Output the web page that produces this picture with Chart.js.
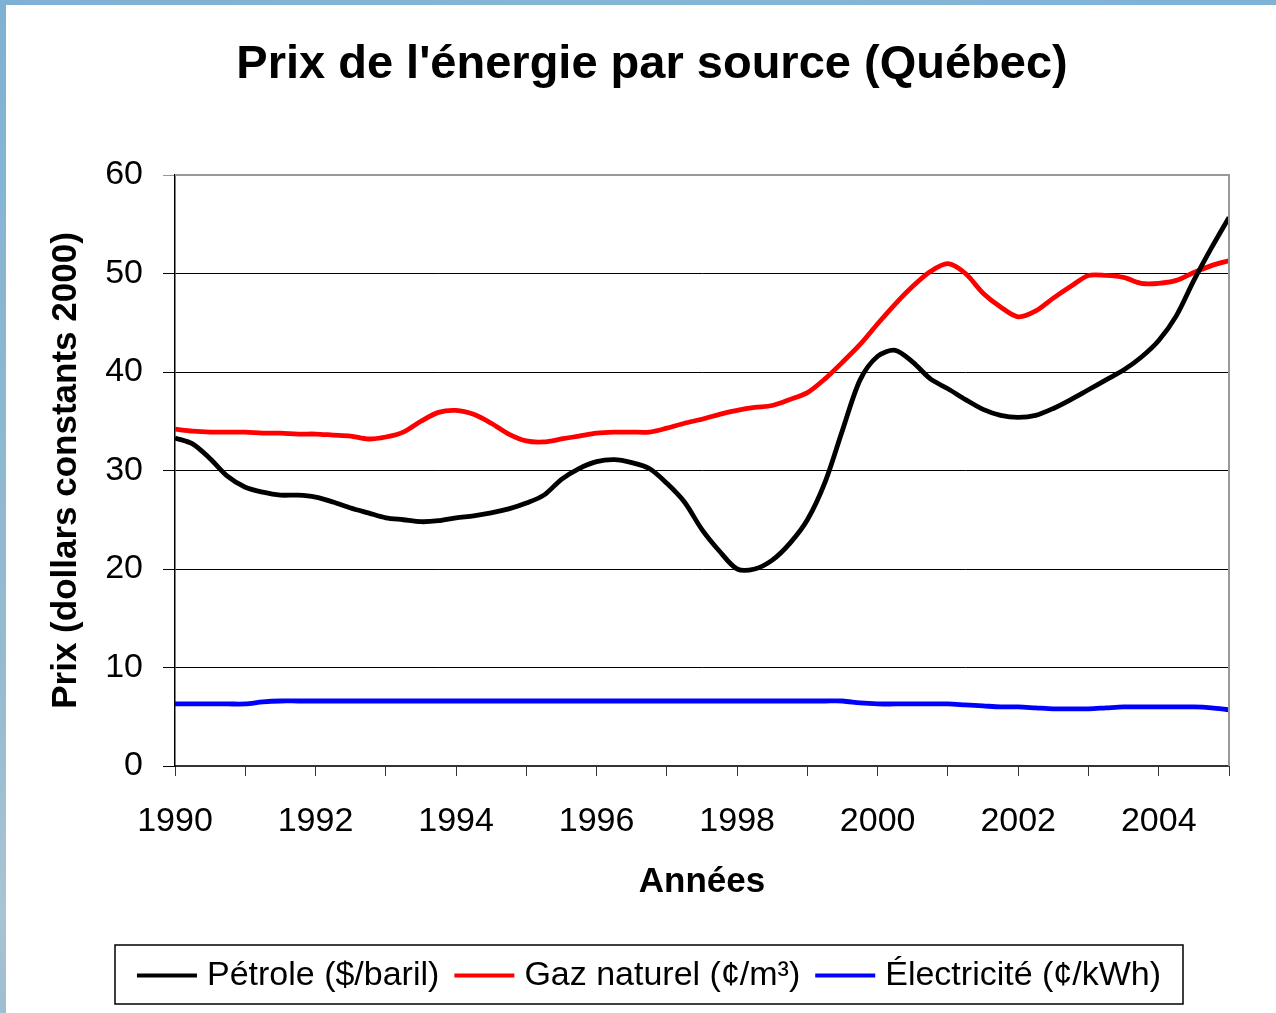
<!DOCTYPE html>
<html>
<head>
<meta charset="utf-8">
<script src="https://cdn.jsdelivr.net/npm/chart.js@4"></script>
<style>
  html, body { margin: 0; padding: 0; background: #fff; }
  #wrap { position: relative; width: 1276px; height: 1013px; overflow: hidden; }
  #chartCanvas { position: absolute; left: 0; top: 0; }
  .edgeTop { position: absolute; left: 0; top: 0; width: 1276px; height: 5px; background: linear-gradient(90deg, #7fb1d4, #86b6d6 50%, #7eb3d6); }
  .edgeLeft { position: absolute; left: 0; top: 0; width: 6px; height: 1013px; background: linear-gradient(180deg, #7fb1d4, #98bcd0 70%, #a9c4d4 90%, #9dbdd0); }
</style>
</head>
<body>
<div id="wrap">
  <canvas id="chartCanvas" width="1276" height="1013"></canvas>
  <div class="edgeTop"></div>
  <div class="edgeLeft"></div>
</div>
<script>
// quarterly points, 1990.00 -> 2005.00
const years = [];
for (let i = 0; i <= 60; i++) years.push(1990 + i / 4);

const petrole = [
  33.3, 32.7, 31.2, 29.4, 28.3, 27.8, 27.5, 27.5, 27.3, 26.8,
  26.2, 25.7, 25.2, 25.0, 24.8, 24.9, 25.2, 25.4, 25.7, 26.1,
  26.7, 27.5, 29.1, 30.2, 30.9, 31.1, 30.8, 30.2, 28.7, 26.8,
  24.0, 21.8, 20.0, 20.0, 20.9, 22.6, 25.0, 28.8, 34.1, 39.2,
  41.6, 42.2, 41.0, 39.3, 38.3, 37.2, 36.2, 35.6, 35.4, 35.6,
  36.3, 37.2, 38.2, 39.2, 40.2, 41.5, 43.2, 45.7, 49.3, 52.6,
  55.7
];
const gazNaturel = [
  34.2, 34.0, 33.9, 33.9, 33.9, 33.8, 33.8, 33.7, 33.7, 33.6,
  33.5, 33.2, 33.4, 33.9, 35.0, 35.9, 36.1, 35.7, 34.8, 33.7,
  33.0, 32.9, 33.2, 33.5, 33.8, 33.9, 33.9, 33.9, 34.3, 34.8,
  35.2, 35.7, 36.1, 36.4, 36.6, 37.2, 37.9, 39.3, 41.0, 42.8,
  44.9, 46.9, 48.7, 50.2, 51.0, 50.0, 48.0, 46.6, 45.6, 46.2,
  47.5, 48.7, 49.8, 49.8, 49.6, 49.0, 49.0, 49.3, 50.1, 50.8,
  51.3
];
const electricite = [
  6.3, 6.3, 6.3, 6.3, 6.3, 6.5, 6.6, 6.6, 6.6, 6.6,
  6.6, 6.6, 6.6, 6.6, 6.6, 6.6, 6.6, 6.6, 6.6, 6.6,
  6.6, 6.6, 6.6, 6.6, 6.6, 6.6, 6.6, 6.6, 6.6, 6.6,
  6.6, 6.6, 6.6, 6.6, 6.6, 6.6, 6.6, 6.6, 6.6, 6.4,
  6.3, 6.3, 6.3, 6.3, 6.3, 6.2, 6.1, 6.0, 6.0, 5.9,
  5.8, 5.8, 5.8, 5.9, 6.0, 6.0, 6.0, 6.0, 6.0, 5.9,
  5.7
];
const seriesLabels = ['Pétrole ($/baril)', 'Gaz naturel (¢/m³)', 'Électricité (¢/kWh)'];
const seriesColors = ['#000000', '#ff0000', '#0000ff'];
const yTicks = [0, 10, 20, 30, 40, 50, 60];

const FONT = "'Liberation Sans', Arial, sans-serif";

function toPoints(vals) {
  return vals.map((v, i) => ({ x: years[i], y: v }));
}

// title + boxed legend + gray frame drawn by hand
const decorPlugin = {
  id: 'decor',
  afterDraw(chart) {
    const ctx = chart.ctx;
    const area = chart.chartArea;
    ctx.save();

    // gray frame top / right
    ctx.strokeStyle = '#999';
    ctx.lineWidth = 2;
    ctx.beginPath();
    ctx.moveTo(area.left, area.top);
    ctx.lineTo(area.right, area.top);
    ctx.lineTo(area.right, area.bottom);
    ctx.stroke();

    // title
    ctx.fillStyle = '#000';
    ctx.font = 'bold 47px ' + FONT;
    ctx.textAlign = 'center';
    ctx.textBaseline = 'middle';
    ctx.fillText("Prix de l'énergie par source (Québec)", 652, 65);

    // legend
    ctx.font = '34px ' + FONT;
    const lineLen = 60, gapLine = 10, gapItem = 15;
    let w = 0;
    const widths = chart.data.datasets.map(ds => ctx.measureText(ds.label).width);
    widths.forEach((tw, i) => { w += lineLen + gapLine + tw + (i < widths.length - 1 ? gapItem : 0); });
    const boxL = 115, boxR = 1183, boxT = 945, boxB = 1004;
    ctx.strokeStyle = '#000';
    ctx.lineWidth = 1.5;
    ctx.strokeRect(boxL, boxT, boxR - boxL, boxB - boxT);
    let x = (boxL + boxR) / 2 - w / 2;
    const cy = (boxT + boxB) / 2 + 1;
    ctx.textAlign = 'left';
    chart.data.datasets.forEach((ds, i) => {
      ctx.strokeStyle = ds.borderColor;
      ctx.lineWidth = 4;
      ctx.beginPath();
      ctx.moveTo(x, cy);
      ctx.lineTo(x + lineLen, cy);
      ctx.stroke();
      x += lineLen + gapLine;
      ctx.fillStyle = '#000';
      ctx.fillText(ds.label, x, cy);
      x += widths[i] + gapItem;
    });
    ctx.restore();
  }
};

const ctx = document.getElementById('chartCanvas').getContext('2d');

const data = {
  datasets: [petrole, gazNaturel, electricite].map((vals, i) => ({
    label: seriesLabels[i],
    data: toPoints(vals),
    borderColor: seriesColors[i],
    borderWidth: 4.8,
    pointRadius: 0,
    tension: 0.3,
    fill: false
  }))
};

const config = {
  type: 'line',
  data: data,
  options: {
    responsive: false,
    devicePixelRatio: 1,
    animation: false,
    layout: { padding: { left: 0, right: 47, top: 175, bottom: 83 } },
    plugins: {
      legend: { display: false },
      title: { display: false },
      tooltip: { enabled: false }
    },
    scales: {
      x: {
        type: 'linear',
        min: 1990,
        max: 2005,
        afterFit: scale => { scale.height = 164; },
        ticks: {
          stepSize: 1,
          autoSkip: false,
          maxRotation: 0,
          padding: 25,
          color: '#000',
          font: { family: FONT, size: 34 },
          callback: v => (v % 2 === 0 ? String(v) : '')
        },
        grid: { drawOnChartArea: false, drawTicks: true, tickLength: 10, color: '#333' },
        border: { color: '#333', width: 2 },
        title: {
          display: true,
          text: 'Années',
          color: '#000',
          font: { family: FONT, size: 35, weight: 'bold' },
          padding: { top: 0, bottom: 27 }
        }
      },
      y: {
        min: 0,
        max: 60,
        afterFit: scale => { scale.width = 175; },
        afterBuildTicks: scale => { scale.ticks = yTicks.map(v => ({ value: v })); },
        ticks: {
          padding: 20,
          color: '#000',
          font: { family: FONT, size: 34 }
        },
        grid: {
          color: c => (c.tick && c.tick.value === 60 ? '#999' : '#000'),
          lineWidth: 1,
          tickLength: 12
        },
        border: { color: '#000', width: 1.5 },
        title: {
          display: true,
          text: 'Prix (dollars constants 2000)',
          color: '#000',
          font: { family: FONT, size: 35, weight: 'bold' },
          padding: { top: 45, bottom: 0 }
        }
      }
    }
  },
  plugins: [decorPlugin]
};

const myChart = new Chart(ctx, config);
</script>
</body>
</html>
